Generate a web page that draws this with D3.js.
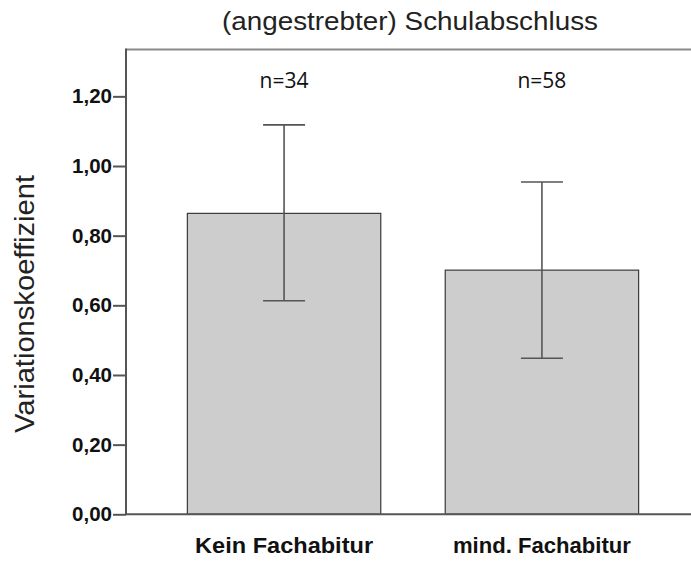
<!DOCTYPE html>
<html>
<head>
<meta charset="utf-8">
<script src="https://cdn.jsdelivr.net/npm/d3@7"></script>
<style>
  html, body { margin: 0; padding: 0; background: #fff; }
  svg { display: block; }
</style>
</head>
<body>
<svg id="chart" width="691" height="561"></svg>
<script>
// Mean coefficient of variation by (intended) school leaving certificate
const categories = ["Kein Fachabitur", "mind. Fachabitur"];
const means = [0.864, 0.701];
const lower = [0.613, 0.448];
const upper = [1.118, 0.954];
const counts = ["n=34", "n=58"];
const yTicks = [0, 0.2, 0.4, 0.6, 0.8, 1.0, 1.2];

const svg = d3.select("#chart");
const W = 691, H = 561;
const plotLeft = 126, plotRight = 700, plotTop = 49.5, plotBottom = 514.3;

const x = d3.scaleBand()
  .domain(categories)
  .range([plotLeft, plotRight])
  .paddingInner(0.25)
  .paddingOuter(0.238);

const y = d3.scaleLinear()
  .domain([0, 1.3345])
  .range([plotBottom, plotTop]);

const fmt = d => d3.format(".2f")(d).replace(".", ",");

// frame (top edge; the right edge lies outside the view)
svg.append("line")
  .attr("x1", plotLeft).attr("x2", W)
  .attr("y1", plotTop).attr("y2", plotTop)
  .attr("stroke", "#8a8a8a").attr("stroke-width", 2);

// bars
svg.append("g").selectAll("rect")
  .data(categories)
  .join("rect")
  .attr("x", d => x(d))
  .attr("width", x.bandwidth())
  .attr("y", (d, i) => y(means[i]))
  .attr("height", (d, i) => y(0) - y(means[i]))
  .attr("fill", "#cdcdcd")
  .attr("stroke", "#3a3a3a")
  .attr("stroke-width", 1.2);

// error bars
const eb = svg.append("g")
  .attr("stroke", "#555")
  .attr("stroke-width", 1.6);
categories.forEach((c, i) => {
  const cx = x(c) + x.bandwidth() / 2;
  eb.append("line")
    .attr("x1", cx).attr("x2", cx)
    .attr("y1", y(upper[i])).attr("y2", y(lower[i]));
  [upper[i], lower[i]].forEach(v => {
    eb.append("line")
      .attr("x1", cx - 21).attr("x2", cx + 21)
      .attr("y1", y(v)).attr("y2", y(v));
  });
});

// group sizes
svg.append("g").selectAll("text")
  .data(categories)
  .join("text")
  .attr("x", d => x(d) + x.bandwidth() / 2)
  .attr("y", 88)
  .attr("text-anchor", "middle")
  .attr("font-family", "'Open Sans', 'Noto Sans', sans-serif")
  .attr("font-size", 21)
  .attr("fill", "#111")
  .text((d, i) => counts[i]);

// y axis
const yAxis = d3.axisLeft(y)
  .tickValues(yTicks)
  .tickFormat(fmt)
  .tickSize(13)
  .tickPadding(1);
const gy = svg.append("g")
  .attr("transform", `translate(${plotLeft},0)`)
  .call(yAxis);
gy.select(".domain").remove();
gy.selectAll(".tick line").attr("stroke", "#555").attr("stroke-width", 2);
gy.selectAll(".tick text")
  .attr("font-family", "'Liberation Sans', Arial, sans-serif")
  .attr("font-weight", "bold")
  .attr("font-size", 20)
  .attr("textLength", 40)
  .attr("lengthAdjust", "spacingAndGlyphs")
  .attr("fill", "#111");
svg.append("line")
  .attr("x1", plotLeft).attr("x2", plotLeft)
  .attr("y1", plotTop - 1).attr("y2", plotBottom)
  .attr("stroke", "#555").attr("stroke-width", 2);

// x axis baseline
svg.append("line")
  .attr("x1", plotLeft).attr("x2", W)
  .attr("y1", plotBottom).attr("y2", plotBottom)
  .attr("stroke", "#555").attr("stroke-width", 2);

// category labels
svg.append("g").selectAll("text")
  .data(categories)
  .join("text")
  .attr("x", d => x(d) + x.bandwidth() / 2)
  .attr("y", 553)
  .attr("text-anchor", "middle")
  .attr("font-family", "'Liberation Sans', Arial, sans-serif")
  .attr("font-weight", "bold")
  .attr("font-size", 22)
  .attr("textLength", 178)
  .attr("lengthAdjust", "spacingAndGlyphs")
  .attr("fill", "#111")
  .text(d => d);

// title
svg.append("text")
  .attr("x", 410)
  .attr("y", 30)
  .attr("text-anchor", "middle")
  .attr("font-family", "'Liberation Sans', Arial, sans-serif")
  .attr("font-size", 26)
  .attr("textLength", 376)
  .attr("lengthAdjust", "spacingAndGlyphs")
  .attr("fill", "#222")
  .text("(angestrebter) Schulabschluss");

// y axis title
svg.append("text")
  .attr("transform", "translate(34,304) rotate(-90)")
  .attr("text-anchor", "middle")
  .attr("font-family", "'Liberation Sans', Arial, sans-serif")
  .attr("font-size", 27)
  .attr("textLength", 258)
  .attr("lengthAdjust", "spacingAndGlyphs")
  .attr("fill", "#222")
  .text("Variationskoeffizient");
</script>
</body>
</html>
